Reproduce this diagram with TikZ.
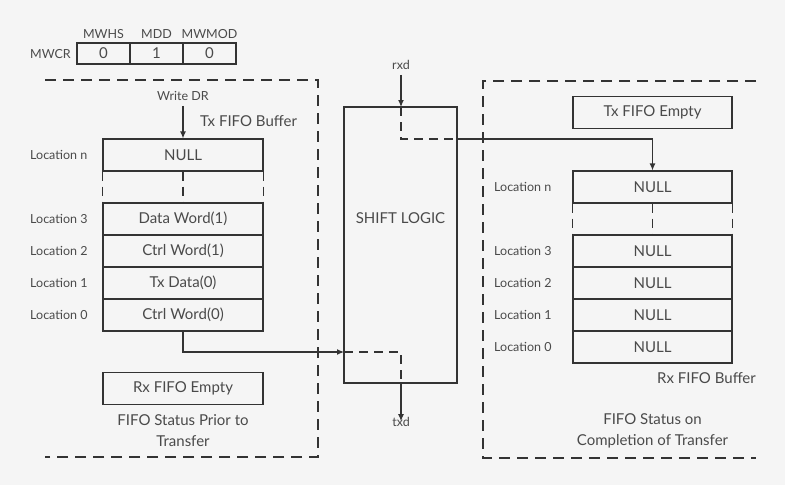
\documentclass[tikz,border=0pt]{standalone}
\usepackage{fontspec}
\setmainfont{Lato}
\usetikzlibrary{arrows.meta}
\definecolor{bg}{HTML}{F5F5F5}
\definecolor{ln}{HTML}{333333}
\definecolor{tx}{HTML}{4A4A4A}
\begin{document}
\begin{tikzpicture}[x=1pt,y=-1pt,
  every node/.style={text=tx,font=\fontsize{15}{18}\selectfont,inner sep=0pt},
  small/.style={font=\fontsize{12.5}{15}\selectfont},
  cell/.style={draw=ln,line width=1.2pt,minimum width=160pt,minimum height=32pt},
  reg/.style={draw=ln,line width=1.2pt,minimum width=53pt,minimum height=21pt},
  dsh/.style={draw=ln,line width=1.2pt,dash pattern=on 11pt off 7pt},
  dshi/.style={draw=ln,line width=1.2pt,dash pattern=on 9pt off 6pt},
  wire/.style={draw=ln,line width=1.2pt},
  arr/.style={wire,-{Latex[length=7pt,width=6pt]}}]
\fill[bg] (0,0) rectangle (785,485);
\useasboundingbox (0,0) rectangle (785,485);
% MWCR register
\node[reg] (m1) at (103.5,53.5) {0};
\node[reg] (m2) at (156.5,53.5) {1};
\node[reg] (m3) at (209.5,53.5) {0};
\node[small,anchor=east] (mwcr) at (71,54) {MWCR};
\node[small] (mwhs) at (103.5,34) {MWHS};
\node[small] (mdd) at (156.5,34) {MDD};
\node[small] (mwmod) at (209.5,34) {MWMOD};
% dashed regions
\draw[dsh] (45,80) -- (318,80) -- (318,457) -- (45,457);
\draw[dsh] (756,81) -- (483,81) -- (483,458) -- (756,458);
% left FIFO
\node[small] (wdr) at (183,96) {Write DR};
\node[anchor=west] (txbuf) at (200,121) {Tx FIFO Buffer};
\node[cell] (ln) at (183,155) {NULL};
\node[cell] (l3) at (183,219) {Data Word(1)};
\node[cell] (l2) at (183,251) {Ctrl Word(1)};
\node[cell] (l1) at (183,283) {Tx Data(0)};
\node[cell] (l0) at (183,315) {Ctrl Word(0)};
\draw[dshi] (ln.south west) -- (l3.north west);
\draw[dshi] (ln.south) -- (l3.north);
\draw[dshi] (ln.south east) -- (l3.north east);
\node[small,anchor=west] (lln) at (30,155) {Location n};
\node[small,anchor=west] (ll3) at (30,219) {Location 3};
\node[small,anchor=west] (ll2) at (30,251) {Location 2};
\node[small,anchor=west] (ll1) at (30,283) {Location 1};
\node[small,anchor=west] (ll0) at (30,315) {Location 0};
\node[cell] (rxe) at (183,388.5) {Rx FIFO Empty};
\node[align=center,font=\fontsize{15}{21}\selectfont] (stl) at (183,431) {FIFO Status Prior to\\Transfer};
% shift logic
\node[draw=ln,line width=1.2pt,minimum width=113pt,minimum height=276pt] (sl) at (400.5,245) {};
\node (slt) at (400.5,218) {SHIFT LOGIC};
\node[small] (rxd) at (401,65) {rxd};
\node[small] (txd) at (401,422) {txd};
\coordinate (rin) at (401,107);
\coordinate (rturn) at (457,139);
\coordinate (tin) at (344,352);
\coordinate (tout) at (401,383);
% right FIFO
\node[cell,minimum width=159pt] (txe) at (652.5,112.5) {Tx FIFO Empty};
\node[cell,minimum width=159pt] (rn) at (652.5,187) {NULL};
\node[cell,minimum width=159pt] (r3) at (652.5,251) {NULL};
\node[cell,minimum width=159pt] (r2) at (652.5,283) {NULL};
\node[cell,minimum width=159pt] (r1) at (652.5,315) {NULL};
\node[cell,minimum width=159pt] (r0) at (652.5,347) {NULL};
\draw[dshi] (rn.south west) -- (r3.north west);
\draw[dshi] (rn.south) -- (r3.north);
\draw[dshi] (rn.south east) -- (r3.north east);
\node[small,anchor=west] (rln) at (494,187) {Location n};
\node[small,anchor=west] (rl3) at (494,251) {Location 3};
\node[small,anchor=west] (rl2) at (494,283) {Location 2};
\node[small,anchor=west] (rl1) at (494,315) {Location 1};
\node[small,anchor=west] (rl0) at (494,347) {Location 0};
\node[anchor=east] (rxbuf) at (756,378) {Rx FIFO Buffer};
\node[align=center,font=\fontsize{15}{21}\selectfont] (str) at (652.5,431) {FIFO Status on\\Completion of Transfer};
% connectors
\draw[arr] ([yshift=-5pt]wdr.south) -- (ln.north);
\draw[arr] (l0.south) |- (tin);
\draw[dshi] (tin) -| (tout);
\draw[arr] (tout) -- ([yshift=-4pt]txd.north);
\draw[arr] ([yshift=-5pt]rxd.south) -- (rin);
\draw[dshi] (rin) |- (rturn);
\draw[arr] (rturn) -| (rn.north);
\end{tikzpicture}
\end{document}
